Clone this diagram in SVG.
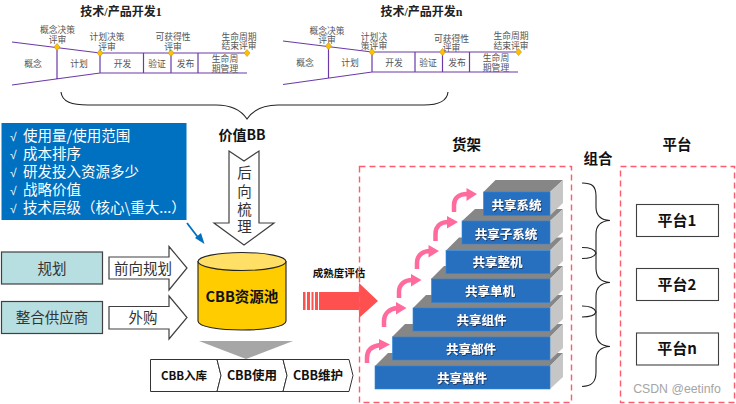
<svg xmlns="http://www.w3.org/2000/svg" width="736" height="404" viewBox="0 0 736 404">
<defs><filter id="sh" x="-10%" y="-20%" width="120%" height="150%"><feDropShadow dx="0.7" dy="0.9" stdDeviation="0.4" flood-color="#1a2a44" flood-opacity="0.9"/></filter></defs>
<style>
text{font-family:"Noto Sans CJK SC","Noto Sans",sans-serif;text-anchor:middle}
.ser{font-family:"Liberation Serif","Noto Sans CJK SC",serif;fill:#555;font-size:8.8px}
.ttl{font-family:"Liberation Serif","Noto Sans CJK SC",serif;font-weight:bold;font-size:12px;fill:#222}
.pl{fill:none;stroke:#6a3aa8;stroke-width:1.2}
.dm{fill:#ffc000;stroke:#b8952a;stroke-width:.6}
.ar{fill:#fff;stroke:#404040;stroke-width:1.2}
.tl{fill:#b7dee1;stroke:#404040;stroke-width:1.2}
.t{fill:#333;font-size:14.5px}
.w{fill:#fff;font-size:12.5px;font-weight:bold;filter:url(#sh)}
.blk{font-weight:bold;fill:#111}
.front{fill:#2770c0;stroke:#2e86d8;stroke-width:.6}
.top{fill:#868686}
.side{fill:#c6c6c6}
.dash{fill:none;stroke:#ff5a6e;stroke-width:1.4;stroke-dasharray:6 4}
.pk{fill:none;stroke:#ff6b9d;stroke-width:4.5}
.pkh{fill:#ff6b9d}
.br{fill:none;stroke:#222;stroke-width:1.1}
.pf{fill:#fff;stroke:#404040;stroke-width:1.1}
.cb{fill:#fff;stroke:#333;stroke-width:1}
.lst{fill:#fff;font-size:14.500px;text-anchor:start}
.ck{font-family:"Liberation Sans",sans-serif;font-size:12px}
</style>
<rect width="736" height="404" fill="#fff"/>
<g id="lifecycle-1">
<text class="ttl" x="121" y="16">技术/产品开发1</text>
<path class="pl" d="M12 42L100 53H247M12 85L100 73H247M57 47V79M100 53V73M143.500 53V73M171 53V73M198 53V73"/>
<path class="dm" d="M57 43.500l3 3.500-3 3.500-3-3.500zM100 49.500l3 3.500-3 3.500-3-3.500zM171 49.500l3 3.500-3 3.500-3-3.500zM247 49.500l3 3.500-3 3.500-3-3.500z"/>
<text class="ser"><tspan x="57.500" y="32.500">概念决策</tspan><tspan x="57.500" y="43">评审</tspan></text>
<text class="ser"><tspan x="107" y="39.500">计划决策</tspan><tspan x="107" y="49.500">评审</tspan></text>
<text class="ser"><tspan x="173" y="39.500">可获得性</tspan><tspan x="173" y="49.500">评审</tspan></text>
<text class="ser"><tspan x="239" y="39.500">生命周期</tspan><tspan x="239" y="49">结束评审</tspan></text>
<text class="ser" x="33" y="66.500">概念</text><text class="ser" x="79" y="66.500">计划</text><text class="ser" x="122.500" y="66.500">开发</text><text class="ser" x="157" y="66.500">验证</text><text class="ser" x="185.500" y="66.500">发布</text>
<text class="ser"><tspan x="225" y="62">生命周</tspan><tspan x="225" y="72">期管理</tspan></text>
</g>
<g id="lifecycle-n">
<text class="ttl" x="421.500" y="16">技术/产品开发n</text>
<path class="pl" d="M283 41L372 52H518M283 84.500L372 72H518M328.500 46V78M372 52V72M415 52V72M442.500 52V72M469.500 52V72"/>
<path class="dm" d="M328.500 42.500l3 3.500-3 3.500-3-3.500zM372 48.500l3 3.500-3 3.500-3-3.500zM442.500 48.500l3 3.500-3 3.500-3-3.500zM518.500 48.500l3 3.500-3 3.500-3-3.500z"/>
<text class="ser"><tspan x="327" y="33.500">概念决策</tspan><tspan x="327" y="43">评审</tspan></text>
<text class="ser"><tspan x="374" y="39.500">计划决</tspan><tspan x="374" y="48.500">策评审</tspan></text>
<text class="ser"><tspan x="451.500" y="41.500">可获得性</tspan><tspan x="451.500" y="51">评审</tspan></text>
<text class="ser"><tspan x="511" y="38.500">生命周期</tspan><tspan x="511" y="48.500">结束评审</tspan></text>
<text class="ser" x="305" y="66">概念</text><text class="ser" x="350" y="66">计划</text><text class="ser" x="394" y="66">开发</text><text class="ser" x="428" y="66">验证</text><text class="ser" x="457" y="66">发布</text>
<text class="ser"><tspan x="496" y="60.500">生命周</tspan><tspan x="496" y="71">期管理</tspan></text>
</g>
<g id="big-brace"><path d="M61 92C62 102 72 105 88 105H216C232 105 241 110 247 119C253 110 262 105 278 105H424C438 105 447 102 448 92" fill="none" stroke="#222" stroke-width="1.1"/></g>
<g id="criteria">
<rect x="1.500" y="123" width="185" height="97" fill="#0070c0"/>
<text class="lst" y="141"><tspan class="ck" x="10">√</tspan><tspan x="23">使用量/使用范围</tspan></text>
<text class="lst" y="159"><tspan class="ck" x="10">√</tspan><tspan x="23">成本排序</tspan></text>
<text class="lst" y="177"><tspan class="ck" x="10">√</tspan><tspan x="23">研发投入资源多少</tspan></text>
<text class="lst" y="195"><tspan class="ck" x="10">√</tspan><tspan x="23">战略价值</tspan></text>
<text class="lst" y="213"><tspan class="ck" x="10">√</tspan><tspan x="23">技术层级（核心\重大...）</tspan></text>
</g>
<g id="connectors"><path d="M187 223L200 240" stroke="#0070c0" stroke-width="1.800" fill="none"/><path d="M204.500 244L195 238L201 233Z" fill="#0070c0"/></g>
<g id="value-bb">
<text class="blk" x="242" y="140" font-size="14">价值BB</text>
<path class="ar" d="M229 151L244 161L259 151V223H274L244 245L214 223H229Z"/>
<text class="t" font-size="15"><tspan x="244.500" y="178">后</tspan><tspan x="244.500" y="197">向</tspan><tspan x="244.500" y="215">梳</tspan><tspan x="244.500" y="232">理</tspan></text>
</g>
<g id="plan"><rect class="tl" x="1.500" y="252" width="101" height="32"/><text class="t" x="52" y="273.500">规划</text></g>
<g id="supplier"><rect class="tl" x="1.500" y="301.500" width="101" height="32"/><text class="t" x="52" y="323">整合供应商</text></g>
<g id="forward"><path class="ar" d="M109 257H169V246.500L187 268L169 290V279H109Z"/><text class="t" x="143" y="273.500">前向规划</text></g>
<g id="outsource"><path class="ar" d="M109 306.500H169V296L187 317.500L169 339V329H109Z"/><text class="t" x="143" y="323">外购</text></g>
<g id="pool">
<path d="M198 261.500V321C198 333 286 333 286 321V261.500Z" fill="#ffcc00" stroke="#222" stroke-width="1.100"/>
<ellipse cx="242" cy="261.500" rx="44" ry="9" fill="#ffdf66" stroke="#222" stroke-width="1.100"/>
<text class="blk" x="242" y="302" font-size="14.500">CBB资源池</text>
</g>
<g id="down-tri"><path d="M199 341H293L246 359Z" fill="#a6a6a6"/></g>
<g id="process">
<path class="cb" d="M150.500 359.500H217L221 375.500L217 391.500H150.500Z"/>
<path class="cb" d="M217 359.500H283L287 375.500L283 391.500H217L221 375.500Z"/>
<path class="cb" d="M283 359.500H349L353 375.500L349 391.500H283L287 375.500Z"/>
<text class="blk" x="184" y="380" font-size="11.500">CBB入库</text>
<text class="blk" x="252" y="380" font-size="12.500">CBB使用</text>
<text class="blk" x="318" y="380" font-size="12.500">CBB维护</text>
</g>
<g id="maturity">
<text class="blk" x="339" y="277" font-size="10.500">成熟度评估</text>
<path d="M303 292h2.500v18H303zM307 292h3v18h-3zM311.500 292h2v18h-2zM315 292h3V310h-3z" fill="#ff5050"/>
<path d="M319 292H359V283L378 301L359 318V310H319Z" fill="#ff5050"/>
</g>
<g id="shelf">
<text class="blk" x="466.500" y="150" font-size="14.500">货架</text>
<rect class="dash" x="359.500" y="166.500" width="212" height="236"/>
<path class="top" d="M375 366L388 353H563L550 366Z"/><path class="side" d="M550 366L563 353V377L550 389Z"/><rect class="front" x="375" y="366" width="175" height="23"/><text class="w" x="462" y="382.500">共享器件</text>
<path class="top" d="M392 337L405 324H563L550 337Z"/><path class="side" d="M550 337L563 324V348L550 360Z"/><rect class="front" x="392.500" y="337" width="157.500" height="23"/><text class="w" x="471" y="353.500">共享部件</text>
<path class="top" d="M413 308L426 295H563L550 308Z"/><path class="side" d="M550 308L563 295V319L550 331Z"/><rect class="front" x="413" y="308" width="137" height="23"/><text class="w" x="481.500" y="325">共享组件</text>
<path class="top" d="M431 279L444 266H563L550 279Z"/><path class="side" d="M550 279L563 266V290L550 302.500Z"/><rect class="front" x="431.500" y="279" width="118.500" height="23.500"/><text class="w" x="490" y="296">共享单机</text>
<path class="top" d="M446 250.500L459 237.500H563L550 250.500Z"/><path class="side" d="M550 250.500L563 237.500V261L550 273.500Z"/><rect class="front" x="446" y="250.500" width="104" height="23"/><text class="w" x="497.500" y="266.500">共享整机</text>
<path class="top" d="M462 221L475 209H563L550 221Z"/><path class="side" d="M550 221L563 209V232L550 244Z"/><rect class="front" x="462" y="221" width="88" height="23"/><text class="w" x="506" y="238.500">共享子系统</text>
<path class="top" d="M483.500 192L495.500 180H563L550 192Z"/><path class="side" d="M550 192L563 180V203L550 215.500Z"/><rect class="front" x="483.500" y="192" width="66.500" height="23.500"/><text class="w" x="516.500" y="210">共享系统</text>
<g id="steps">
<path class="pk" d="M367 363V358C367 350 372 346 380 345"/><path class="pkh" d="M379 339L390 344.500L379 350.500Z"/>
<path class="pk" d="M384 327V321C384 313 390 309 397 308"/><path class="pkh" d="M396 302L406.500 308L396 314.500Z"/>
<path class="pk" d="M399 298V292C399 284 405 280 412 280"/><path class="pkh" d="M411 274L421.500 280L411 286.500Z"/>
<path class="pk" d="M417 269V263C417 255 423 251 430 251"/><path class="pkh" d="M428.500 245L439 251L428.500 257.500Z"/>
<path class="pk" d="M435.500 241V234C435.500 226 441 222 448 222"/><path class="pkh" d="M447 216L458 222L447 228.500Z"/>
<path class="pk" d="M454 212V205C454 197 460 194 467 194"/><path class="pkh" d="M466.500 188L477 194L466.500 201Z"/>
</g>
</g>
<g id="combine">
<text class="blk" x="598" y="164" font-size="14.500">组合</text>
<path class="br" d="M582 183C592 183 596 186 596 196V207C596 215 600 220 610 220.500C600 221 596 226 596 234V268C596 276 600 282 610 282.500C600 283 596 288 596 296V332C596 340 600 346 610 346.500C600 347 596 352 596 360V372C596 382 592 386.500 582 386.500"/>
<path class="br" d="M582 247.500C592 247.500 595 250 596 253C595 256 592 258.500 582 258.500"/>
<path class="br" d="M582 306C592 306 595 309 596 312C595 315 592 317 582 317"/>
</g>
<g id="platform">
<text class="blk" x="677" y="150" font-size="14.500">平台</text>
<rect class="dash" x="620.500" y="166.500" width="114" height="236"/>
<g id="p1"><rect class="pf" x="636.500" y="204.500" width="82" height="32"/><text class="blk" x="677" y="226" font-size="15">平台1</text></g>
<g id="p2"><rect class="pf" x="636.500" y="268.500" width="82" height="32"/><text class="blk" x="677" y="290" font-size="15">平台2</text></g>
<g id="pn"><rect class="pf" x="636.500" y="333" width="82" height="32"/><text class="blk" x="677" y="354" font-size="15">平台n</text></g>
</g>
<text x="677" y="393" font-size="12.300" fill="#a5a5a5" style="font-family:'Liberation Sans',sans-serif">CSDN @eetinfo</text>
</svg>
